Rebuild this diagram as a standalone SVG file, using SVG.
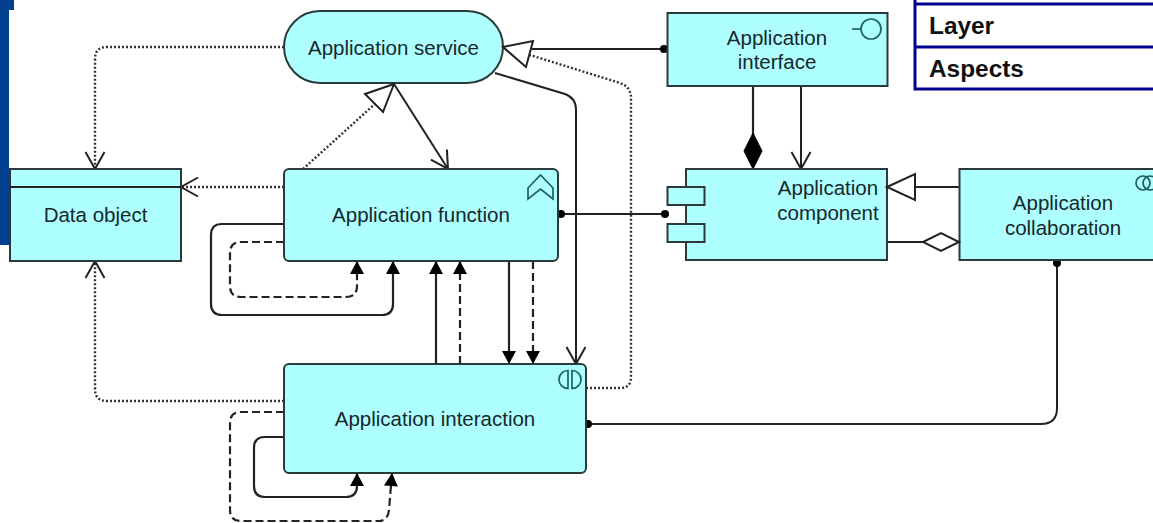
<svg xmlns="http://www.w3.org/2000/svg" width="1153" height="523" viewBox="0 0 1153 523">
<style>
.n{fill:#aeffff;stroke:#2a3a3a;stroke-width:2}
.t{font-family:"Liberation Sans",Arial,sans-serif;font-size:20.5px;fill:#16282c;text-anchor:middle}
.b{font-family:"Liberation Sans",Arial,sans-serif;font-size:24.4px;font-weight:bold;fill:#111}
.c{fill:none;stroke:#222;stroke-width:2}
.th{stroke-width:2.2}
.dash{stroke-dasharray:8 4}
.dot{stroke-dasharray:2 2;stroke-width:2.4;stroke:#333}
.ic{fill:none;stroke:#1f5f63;stroke-width:1.7}
.f{fill:#000;stroke:#000;stroke-width:1}
.h{fill:#fff;stroke:#222;stroke-width:2}
</style>
<defs>
<marker id="open" markerUnits="userSpaceOnUse" markerWidth="26" markerHeight="26" refX="21" refY="12" orient="auto" viewBox="0 0 26 26"><path d="M4,2.500 L21,12 L4,21.500" fill="none" stroke="#222" stroke-width="2"/></marker>
<marker id="solid" markerUnits="userSpaceOnUse" markerWidth="20" markerHeight="20" refX="16" refY="10" orient="auto" viewBox="0 0 20 20"><path d="M3,3 L16,10 L3,17 Z" fill="#000"/></marker>
<marker id="ball" markerUnits="userSpaceOnUse" markerWidth="10" markerHeight="10" refX="5" refY="5" viewBox="0 0 10 10"><circle cx="5" cy="5" r="4" fill="#000"/></marker>
</defs>
<g id="sidebar"><path d="M0,0H14V10H9V245H0Z" fill="#03408f"/></g>
<g id="legend">
<path d="M915,0V89H1153M915,4H1153M915,47H1153" fill="none" stroke="#00008f" stroke-width="3"/>
<text class="b" x="929" y="34">Layer</text>
<text class="b" x="929" y="77">Aspects</text>
</g>
<g id="connectors">
<path class="c dot" marker-end="url(#open)" d="M284,47H107Q95,47 95,59V169"/>
<path class="c dot" marker-end="url(#open)" d="M284,187H181"/>
<path class="c dot" d="M303,169L376,103"/>
<path class="c" marker-end="url(#open)" d="M394,84L448,169"/>
<path class="c dot" marker-end="url(#open)" d="M284,401H107Q95,401 95,389V261"/>
<path class="c" marker-end="url(#open)" d="M495,73L565,94Q576,98 576,110V364"/>
<path class="c dot" d="M586,388H620Q631,388 631,377V98Q631,87 620,83L530,55"/>
<path class="c" marker-start="url(#ball)" d="M664,49H532"/>
<path class="c th" d="M753,86V135"/>
<path class="f" d="M753,133L762,151L753,169L744,151Z"/>
<path class="c" marker-end="url(#open)" d="M801,86V169"/>
<path class="c" marker-start="url(#ball)" marker-end="url(#ball)" d="M561,214H665"/>
<path class="c" d="M915,187H959"/>
<path class="c" d="M887,242H924"/>
<path class="c" marker-start="url(#ball)" marker-end="url(#ball)" d="M1057,263V408Q1057,424 1041,424H588"/>
<path class="c th" marker-end="url(#solid)" d="M284,224H222Q211,224 211,235V304Q211,315 222,315H382Q393,315 393,304V261"/>
<path class="c th dash" marker-end="url(#solid)" d="M284,242H241Q230,242 230,253V286Q230,297 241,297H346Q357,297 357,286V261"/>
<path class="c th" marker-end="url(#solid)" d="M436,364V261"/>
<path class="c th dash" marker-end="url(#solid)" d="M460,364V261"/>
<path class="c th" marker-end="url(#solid)" d="M509,261V364"/>
<path class="c th dash" marker-end="url(#solid)" d="M533,261V364"/>
<path class="c th" marker-end="url(#solid)" d="M284,437H265Q254,437 254,448V486Q254,497 265,497H346Q357,497 357,486V473"/>
<path class="c th dash" marker-end="url(#solid)" d="M284,412H241Q230,412 230,423V510Q230,521 241,521H378Q388,521 389,510L392,473"/>
</g>
<g id="application-service">
<rect class="n" x="284" y="11" width="219" height="72" rx="36"/>
<text class="t" x="393.500" y="55">Application service</text>
</g>
<g id="data-object">
<rect class="n" x="10" y="169" width="171" height="92"/>
<path class="c" d="M10,187H181"/>
<text class="t" x="95.500" y="222">Data object</text>
</g>
<g id="application-function">
<rect class="n" x="284" y="169" width="274" height="92" rx="5"/>
<path class="ic" d="M528,188L540.500,175L553,188V199L540.500,189L528,199Z"/>
<text class="t" x="421" y="222">Application function</text>
</g>
<g id="application-interaction">
<rect class="n" x="284" y="364" width="302" height="109" rx="5"/>
<path class="ic" d="M568,370.500A9,9 0 0 0 568,388.500ZM572,370.500A9,9 0 0 1 572,388.500Z"/>
<text class="t" x="435" y="426">Application interaction</text>
</g>
<g id="application-interface">
<rect class="n" x="667.500" y="13" width="220" height="73"/>
<path class="ic" d="M852,29H861"/>
<circle class="ic" cx="871" cy="29" r="10"/>
<text class="t" x="777" y="45">Application</text>
<text class="t" x="777" y="69">interface</text>
</g>
<g id="application-component">
<rect class="n" x="686" y="169" width="201" height="91"/>
<rect class="n" x="667.500" y="187" width="37" height="18"/>
<rect class="n" x="667.500" y="224" width="37" height="18"/>
<text class="t" x="828" y="195">Application</text>
<text class="t" x="828" y="220">component</text>
</g>
<g id="application-collaboration">
<rect class="n" x="959.500" y="169" width="196" height="91"/>
<circle class="ic" cx="1143" cy="183" r="7"/>
<circle class="ic" cx="1150" cy="183" r="7"/>
<text class="t" x="1063" y="210">Application</text>
<text class="t" x="1063" y="235">collaboration</text>
</g>
<g id="connector-heads">
<path class="h" d="M503,47L533,41L526,67Z"/>
<path class="h" d="M394,84L365,94L383,112Z"/>
<path class="h" d="M887,187L915,174V200Z"/>
<path class="h" d="M923,242L941,233L959,242L941,251Z"/>
</g>
</svg>
